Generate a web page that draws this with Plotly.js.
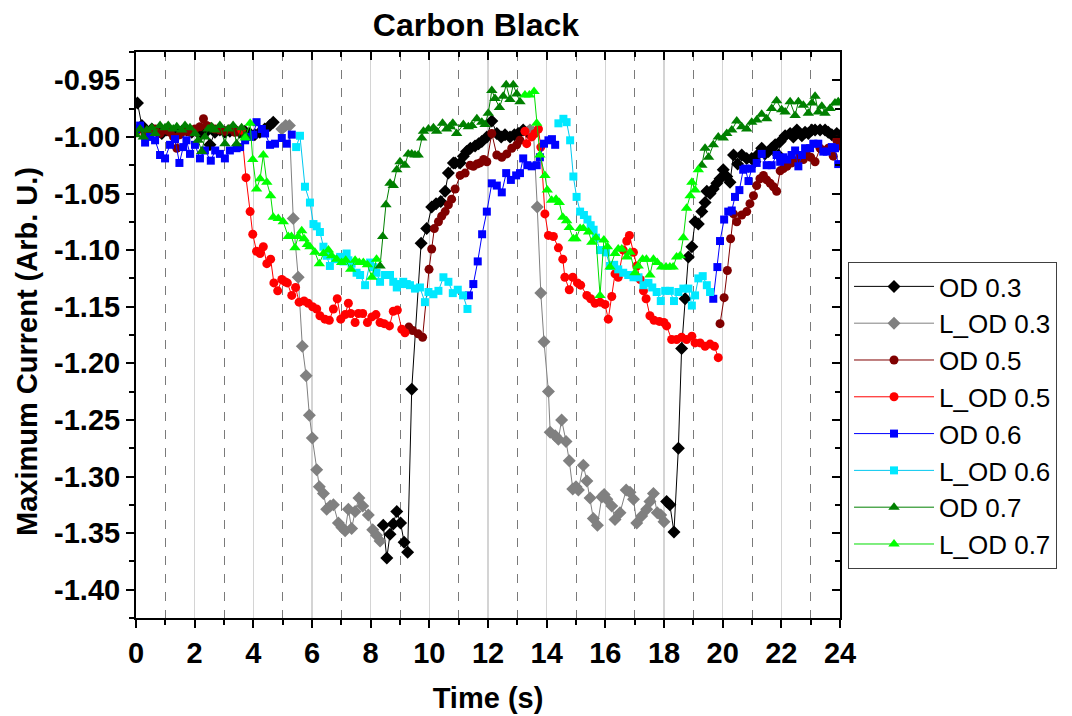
<!DOCTYPE html>
<html>
<head>
<meta charset="utf-8">
<script src="https://cdn.plot.ly/plotly-3.0.1.min.js"></script>
<style>html,body{margin:0;padding:0;background:#fff;}#chart{width:1072px;height:716px;}</style>
</head>
<body>
<div id="chart"></div>
<script>
// ---- Data (time in s, maximum current in arb. units); null separates segments ----
const od03_t = [0.05,0.2,0.37,0.54,0.71,0.88,1.05,1.22,1.39,1.56,1.73,1.9,2.07,2.24,2.41,2.52,2.69,2.86,3.03,3.2,3.37,3.54,3.71,3.88,4.05,4.22,4.39,4.56,4.68,
  null,
  8.43,8.55,8.66,8.77,8.89,9.02,9.14,9.26,9.4,9.72,9.91,10.08,10.23,10.39,10.54,10.65,10.82,10.88,11.05,11.16,11.27,11.4,11.56,11.68,11.79,11.96,12.13,12.3,12.45,12.58,12.75,12.9,13.03,13.2,13.35,
  null,
  18.09,18.2,18.34,18.49,18.6,18.72,18.83,18.95,19.06,19.17,19.29,19.4,19.46,19.57,19.68,19.8,19.91,20.02,20.14,20.25,20.37,20.51,20.65,20.82,20.99,21.1,21.22,21.33,21.44,21.56,21.67,21.79,21.9,21.96,22.13,22.3,22.41,22.53,22.7,22.81,22.92,23.04,23.15,23.32,23.49,23.6,23.72,23.89,24.0];
const od03_v = [-0.970,-0.990,-0.996,-0.993,-0.995,-0.997,-0.994,-0.996,-0.997,-0.995,-0.994,-0.996,-0.995,-0.997,-0.995,-1.007,-0.996,-0.994,-0.996,-0.995,-0.994,-0.996,-0.995,-0.997,-0.998,-0.996,-0.993,-0.990,-0.987,
  null,
  -1.343,-1.372,-1.351,-1.342,-1.331,-1.341,-1.358,-1.367,-1.223,-1.094,-1.081,-1.062,-1.059,-1.057,-1.048,-1.032,-1.023,-1.023,-1.023,-1.017,-1.013,-1.010,-1.008,-1.006,-1.004,-1.000,-0.986,-0.997,-1.000,-0.998,-1.000,-0.998,-0.997,-0.994,-0.996,
  null,
  -1.322,-1.325,-1.349,-1.275,-1.187,-1.143,-1.106,-1.097,-1.075,-1.077,-1.066,-1.058,-1.048,-1.050,-1.046,-1.041,-1.037,-1.029,-1.035,-1.040,-1.016,-1.024,-1.016,-1.019,-1.019,-1.022,-1.015,-1.010,-1.015,-1.013,-1.010,-1.007,-1.016,-1.004,-0.999,-0.997,-1.000,-0.994,-0.999,-0.996,-0.997,-0.994,-0.994,-0.994,-0.994,-0.996,-0.998,-0.997,-0.999];

const lod03_t = [4.97,5.1,5.23,5.36,5.53,5.67,5.8,5.91,6.01,6.16,6.25,6.39,6.5,6.62,6.73,6.9,7.02,7.13,7.24,7.35,7.47,7.6,7.73,7.92,8.07,8.2,8.32,
  null,
  13.43,13.55,13.68,13.8,13.91,14.06,14.12,14.29,14.4,14.51,14.66,14.77,14.89,15.0,15.08,15.25,15.37,15.48,15.59,15.73,15.88,15.96,16.05,16.22,16.33,16.5,16.71,16.84,16.96,17.07,17.24,17.41,17.52,17.64,17.77,17.89,18.0];
const lod03_v = [-0.993,-0.990,-0.990,-1.072,-1.124,-1.185,-1.211,-1.246,-1.266,-1.294,-1.309,-1.315,-1.329,-1.326,-1.325,-1.341,-1.345,-1.348,-1.329,-1.346,-1.331,-1.319,-1.326,-1.334,-1.347,-1.352,-1.357,
  null,
  -0.994,-0.996,-1.062,-1.138,-1.181,-1.225,-1.261,-1.264,-1.267,-1.250,-1.269,-1.286,-1.311,-1.309,-1.312,-1.290,-1.304,-1.319,-1.337,-1.343,-1.318,-1.316,-1.320,-1.326,-1.338,-1.332,-1.312,-1.314,-1.320,-1.341,-1.335,-1.329,-1.322,-1.315,-1.332,-1.334,-1.340];

const od05_t = [0.0,0.14,0.31,0.48,0.65,0.82,0.99,1.16,1.28,1.39,1.5,1.67,1.84,2.01,2.18,2.3,2.41,2.52,2.69,2.86,3.03,3.2,3.37,3.5,
  null,
  9.3,9.43,9.62,9.77,9.99,10.08,10.17,10.31,10.42,10.54,10.65,10.76,10.88,11.05,11.22,11.39,11.5,11.62,11.73,11.85,11.96,12.13,12.3,12.47,12.64,12.81,12.98,13.09,
  null,
  19.91,20.05,20.16,20.27,20.37,20.48,20.65,20.82,20.93,21.05,21.16,21.27,21.39,21.5,21.62,21.73,21.84,21.96,22.07,22.19,22.36,22.53,22.64,22.75,22.87,23.0,23.15,23.32,23.43,23.6,23.77,23.89,24.0];
const od05_v = [-0.995,-0.993,-0.998,-0.996,-0.993,-0.997,-0.994,-0.996,-1.000,-1.010,-0.998,-0.995,-0.996,-0.993,-0.991,-0.984,-0.990,-0.991,-0.993,-0.994,-0.995,-0.993,-0.996,-0.995,
  null,
  -1.168,-1.171,-1.174,-1.177,-1.117,-1.099,-1.081,-1.075,-1.070,-1.066,-1.060,-1.055,-1.046,-1.034,-1.032,-1.025,-1.026,-1.024,-1.023,-1.020,-1.022,-0.997,-1.016,-1.018,-1.015,-1.010,-1.007,-1.003,
  null,
  -1.165,-1.142,-1.118,-1.090,-1.068,-1.075,-1.069,-1.066,-1.059,-1.052,-1.043,-1.037,-1.034,-1.038,-1.041,-1.044,-1.048,-1.030,-1.028,-1.026,-1.023,-1.021,-1.017,-1.020,-1.016,-1.018,-1.022,-1.010,-1.012,-1.010,-1.017,-1.003,-1.008];

const lod05_t = [3.6,3.75,3.89,3.98,4.11,4.23,4.34,4.46,4.59,4.7,4.83,4.97,5.08,5.16,5.31,5.44,5.56,5.73,5.87,6.02,6.16,6.27,6.44,6.59,6.73,6.86,6.98,7.13,7.24,7.32,7.47,7.58,7.73,7.89,8.04,8.18,8.32,8.46,8.64,8.77,8.91,9.06,9.17,
  null,
  13.26,13.32,13.49,13.6,13.72,13.8,13.94,14.06,14.23,14.4,14.55,14.62,14.77,14.89,15.05,15.16,15.37,15.5,15.65,15.82,15.99,16.1,16.22,16.33,16.44,16.61,16.73,16.82,16.96,17.07,17.19,17.3,17.39,17.52,17.66,17.84,18.0,18.09,18.26,18.43,18.6,18.77,18.95,19.06,19.23,19.4,19.57,19.72,19.85];
const lod05_v = [-0.994,-1.036,-1.066,-1.086,-1.101,-1.103,-1.097,-1.112,-1.108,-1.129,-1.136,-1.126,-1.128,-1.129,-1.140,-1.133,-1.146,-1.145,-1.147,-1.150,-1.152,-1.158,-1.161,-1.162,-1.152,-1.143,-1.161,-1.157,-1.147,-1.156,-1.164,-1.156,-1.156,-1.164,-1.159,-1.157,-1.164,-1.165,-1.167,-1.154,-1.153,-1.170,-1.173,
  null,
  -0.995,-1.006,-1.000,-0.997,-0.993,-1.009,-1.068,-1.087,-1.088,-1.098,-1.108,-1.124,-1.135,-1.124,-1.129,-1.131,-1.140,-1.143,-1.147,-1.146,-1.148,-1.161,-1.141,-1.121,-1.124,-1.100,-1.092,-1.087,-1.102,-1.114,-1.126,-1.136,-1.143,-1.158,-1.162,-1.163,-1.164,-1.167,-1.179,-1.179,-1.177,-1.179,-1.176,-1.182,-1.182,-1.185,-1.183,-1.185,-1.195];

const od06_t = [0.0,0.14,0.31,0.48,0.65,0.82,0.99,1.16,1.33,1.48,1.61,1.72,1.84,2.01,2.18,2.35,2.55,2.7,2.86,3.03,3.2,3.43,3.55,3.72,3.89,4.0,4.11,4.29,4.4,4.57,4.74,4.97,5.14,5.31,
  null,
  11.35,11.5,11.65,11.8,11.96,12.13,12.3,12.47,12.62,12.78,12.96,13.09,13.2,13.34,13.49,13.66,13.77,13.91,14.06,14.18,14.29,
  null,
  19.68,19.82,19.91,20.05,20.19,20.31,20.42,20.57,20.7,20.77,20.88,20.99,21.16,21.33,21.5,21.67,21.84,21.96,22.07,22.2,22.35,22.47,22.58,22.7,22.81,22.98,23.09,23.26,23.43,23.55,23.72,23.83,23.94];
const od06_v = [-0.993,-0.990,-1.005,-1.000,-1.003,-1.016,-1.019,-1.007,-1.002,-1.023,-1.009,-1.003,-1.015,-1.007,-1.019,-1.012,-1.021,-1.012,-1.015,-1.019,-1.012,-1.010,-1.009,-1.003,-1.000,-0.998,-0.987,-0.993,-0.997,-1.007,-1.006,-1.001,-1.006,-0.998,
  null,
  -1.140,-1.130,-1.110,-1.086,-1.066,-1.041,-1.043,-1.049,-1.032,-1.038,-1.034,-1.032,-1.019,-1.025,-1.026,-1.025,-1.018,-1.006,-1.003,-1.002,-1.007,
  null,
  -1.143,-1.115,-1.092,-1.073,-1.066,-1.065,-1.053,-1.047,-1.029,-1.028,-1.039,-1.028,-1.023,-1.015,-1.025,-1.025,-1.016,-1.022,-1.018,-1.020,-1.016,-1.012,-1.026,-1.016,-1.010,-1.010,-1.006,-1.006,-1.013,-1.013,-1.009,-1.010,-1.024];

const lod06_t = [5.46,5.59,5.76,5.93,6.05,6.16,6.27,6.39,6.5,6.61,6.78,6.96,7.07,7.18,7.24,7.35,7.52,7.64,7.81,7.98,8.09,8.2,8.32,8.49,8.66,8.77,8.89,9.0,9.11,9.23,9.34,9.51,9.68,9.85,9.97,10.14,10.31,10.48,10.65,10.8,10.97,11.15,11.3,
  null,
  14.4,14.57,14.68,14.8,14.91,15.02,15.14,15.27,15.39,15.5,15.6,15.68,15.82,16.02,16.16,16.3,16.44,16.61,16.78,16.96,17.13,17.3,17.47,17.6,17.75,17.89,18.04,18.2,18.34,18.49,18.66,18.83,18.95,19.06,19.17,19.32,19.46,19.57];
const lod06_v = [-1.009,-0.999,-1.044,-1.058,-1.077,-1.079,-1.084,-1.097,-1.105,-1.114,-1.108,-1.106,-1.110,-1.103,-1.109,-1.112,-1.120,-1.122,-1.131,-1.111,-1.115,-1.120,-1.128,-1.122,-1.122,-1.128,-1.133,-1.130,-1.128,-1.130,-1.131,-1.134,-1.133,-1.146,-1.137,-1.139,-1.136,-1.124,-1.128,-1.138,-1.135,-1.140,-1.152,
  null,
  -0.988,-0.984,-0.987,-1.003,-1.035,-1.053,-1.066,-1.069,-1.073,-1.078,-1.082,-1.089,-1.100,-1.102,-1.114,-1.113,-1.117,-1.120,-1.122,-1.124,-1.124,-1.131,-1.129,-1.133,-1.137,-1.145,-1.136,-1.136,-1.145,-1.137,-1.134,-1.134,-1.149,-1.140,-1.125,-1.123,-1.131,-1.137];

const od07_t = [0.0,0.14,0.25,0.37,0.54,0.65,0.82,0.99,1.1,1.27,1.39,1.56,1.67,1.84,2.01,2.12,2.24,2.35,2.46,2.58,2.69,2.86,3.03,3.14,3.31,3.43,3.6,3.72,
  null,
  8.32,8.41,8.52,8.66,8.77,8.89,9.0,9.17,9.28,9.4,9.51,9.62,9.74,9.8,9.97,10.14,10.25,10.45,10.59,10.7,10.8,10.93,11.16,11.33,11.45,11.62,11.79,11.9,12.01,12.13,12.24,12.39,12.52,12.62,12.75,12.86,12.98,13.09,
  null,
  19.29,19.4,19.52,19.68,19.85,20.02,20.14,20.31,20.48,20.65,20.82,20.99,21.16,21.33,21.5,21.67,21.84,22.01,22.13,22.3,22.47,22.58,22.75,22.92,23.04,23.15,23.26,23.38,23.49,23.66,23.83,23.94];
const od07_v = [-0.998,-0.993,-1.000,-0.994,-0.992,-0.997,-0.990,-0.992,-0.990,-0.993,-0.991,-0.994,-0.990,-0.992,-0.997,-1.003,-1.013,-1.000,-0.993,-0.991,-0.994,-0.990,-1.006,-0.993,-0.990,-1.006,-0.992,-0.999,
  null,
  -1.114,-1.088,-1.060,-1.041,-1.043,-1.029,-1.022,-1.025,-1.015,-1.015,-1.016,-1.016,-1.001,-0.995,-0.993,-0.992,-0.995,-0.988,-0.993,-0.991,-0.988,-0.997,-0.989,-0.991,-0.990,-0.984,-0.987,-0.989,-0.979,-0.959,-0.966,-0.974,-0.964,-0.954,-0.967,-0.954,-0.962,-0.969,
  null,
  -1.025,-1.010,-1.018,-1.007,-1.000,-1.001,-0.997,-0.994,-0.986,-0.991,-0.993,-0.987,-0.985,-0.980,-0.984,-0.975,-0.968,-0.976,-0.978,-0.969,-0.981,-0.969,-0.972,-0.979,-0.970,-0.964,-0.978,-0.973,-0.979,-0.975,-0.970,-0.969];

const lod07_t = [3.72,3.89,3.98,4.11,4.23,4.34,4.46,4.59,4.68,4.85,5.02,5.19,5.3,5.42,5.53,5.65,5.73,5.84,5.93,6.1,6.25,6.39,6.56,6.67,6.84,7.01,7.15,7.32,7.47,7.61,7.75,7.89,8.04,8.2,
  null,
  13.26,13.41,13.57,13.66,13.77,13.94,14.02,14.17,14.32,14.43,14.55,14.68,14.77,14.91,15.0,15.14,15.25,15.43,15.54,15.68,15.82,15.95,16.07,16.16,16.33,16.44,16.56,16.73,16.84,17.01,17.12,17.27,17.4,17.52,17.64,17.77,17.92,18.07,18.2,18.31,18.43,18.55,18.66,18.77,18.89,18.95,19.06,19.17];
const lod07_v = [-1.001,-0.988,-1.020,-1.046,-1.037,-1.016,-1.040,-1.052,-1.071,-1.072,-1.075,-1.088,-1.088,-1.098,-1.088,-1.083,-1.090,-1.095,-1.097,-1.102,-1.112,-1.103,-1.100,-1.105,-1.108,-1.111,-1.109,-1.117,-1.109,-1.111,-1.111,-1.113,-1.124,-1.108,
  null,
  -0.963,-0.963,-0.960,-0.988,-1.016,-1.034,-1.047,-1.056,-1.055,-1.058,-1.071,-1.074,-1.080,-1.090,-1.090,-1.081,-1.081,-1.084,-1.093,-1.089,-1.140,-1.091,-1.097,-1.115,-1.103,-1.099,-1.099,-1.106,-1.102,-1.120,-1.114,-1.108,-1.108,-1.122,-1.108,-1.111,-1.115,-1.115,-1.115,-1.115,-1.106,-1.105,-1.089,-1.063,-1.052,-1.040,-1.047,-1.029];

const seriesNames = ['OD 0.3','L_OD 0.3','OD 0.5','L_OD 0.5','OD 0.6','L_OD 0.6','OD 0.7','L_OD 0.7'];
const xTickVals = [0,2,4,6,8,10,12,14,16,18,20,22,24];
const yTickVals = [-0.95,-1.00,-1.05,-1.10,-1.15,-1.20,-1.25,-1.30,-1.35,-1.40];
const chartTitle = 'Carbon Black';
const xTitle = 'Time (s)';
const yTitle = 'Maximum Current (Arb. U.)';

// ---- Styles ----
const styles = [
  {t: od03_t,  v: od03_v,  color:'#000000', line:'#000000', symbol:'diamond',     size:10},
  {t: lod03_t, v: lod03_v, color:'#808080', line:'#808080', symbol:'diamond',     size:10},
  {t: od05_t,  v: od05_v,  color:'#800000', line:'#800000', symbol:'circle',      size:9},
  {t: lod05_t, v: lod05_v, color:'#ff0000', line:'#ff0000', symbol:'circle',      size:9},
  {t: od06_t,  v: od06_v,  color:'#0000ff', line:'#0000ff', symbol:'square',      size:8},
  {t: lod06_t, v: lod06_v, color:'#00e8ff', line:'#00c8f0', symbol:'square',      size:8},
  {t: od07_t,  v: od07_v,  color:'#008000', line:'#008000', symbol:'triangle-up', size:10},
  {t: lod07_t, v: lod07_v, color:'#00ff00', line:'#00dd00', symbol:'triangle-up', size:10}
];

const traces = styles.map((s, i) => ({
  type:'scatter', mode:'lines+markers', name: seriesNames[i],
  x: s.t, y: s.v, connectgaps:false,
  line:{color:s.line, width:1},
  marker:{color:s.color, symbol:s.symbol, size:s.size, line:{width:0}}
}));
// dummy trace to activate the mirrored (top/right) tick axes
traces.push({type:'scatter', mode:'markers', x:[null], y:[null], xaxis:'x2', yaxis:'y2', showlegend:false, hoverinfo:'skip'});

const FAM = 'Liberation Sans, Arial, sans-serif';
const tickFont = {family:FAM, size:29, color:'#000', weight:700};
const titleFont = {family:FAM, size:29, color:'#000', weight:700};

const layout = {
  width:1072, height:716,
  paper_bgcolor:'#ffffff', plot_bgcolor:'#ffffff',
  margin:{l:136, r:232, t:52, b:98},
  showlegend:true,
  title:{text:chartTitle, font:{family:FAM, size:32, color:'#000', weight:700},
         x:0.444, xref:'container', xanchor:'center', y:0.966, yref:'container', yanchor:'middle'},
  xaxis:{
    range:[0,24], tickmode:'array', tickvals:xTickVals, ticktext:xTickVals.map(String),
    ticks:'outside', ticklen:8, tickwidth:2, tickcolor:'#000',
    showline:true, linewidth:2, linecolor:'#000', zeroline:false,
    showgrid:true, gridcolor:'#d4d4d4', gridwidth:1.5,
    minor:{dtick:1, tick0:0, ticks:'outside', ticklen:5, tickwidth:2, tickcolor:'#000',
           showgrid:true, gridcolor:'#7a7a7a', gridwidth:1, griddash:'dash'},
    tickfont:tickFont,
    title:{text:xTitle, font:titleFont, standoff:20}
  },
  yaxis:{
    range:[-1.425,-0.925], tickmode:'array', tickvals:yTickVals, ticktext:yTickVals.map(v=>v.toFixed(2)),
    ticks:'outside', ticklen:8, tickwidth:2, tickcolor:'#000',
    showline:true, linewidth:2, linecolor:'#000', zeroline:false, showgrid:false,
    minor:{dtick:0.025, tick0:-1.0, ticks:'outside', ticklen:5, tickwidth:2, tickcolor:'#000', showgrid:false},
    tickfont:tickFont
  },
  xaxis2:{
    overlaying:'x', side:'top', anchor:'y', range:[0,24], dtick:2, tick0:0,
    ticks:'inside', ticklen:8, tickwidth:2, tickcolor:'#000', showticklabels:false,
    showline:true, linewidth:2, linecolor:'#000', showgrid:false, zeroline:false,
    minor:{dtick:1, tick0:0, ticks:'inside', ticklen:5, tickwidth:2, tickcolor:'#000', showgrid:false}
  },
  yaxis2:{
    overlaying:'y', side:'right', anchor:'x', range:[-1.425,-0.925], dtick:0.05, tick0:-1.0,
    ticks:'inside', ticklen:8, tickwidth:2, tickcolor:'#000', showticklabels:false,
    showline:true, linewidth:2, linecolor:'#000', showgrid:false, zeroline:false,
    minor:{dtick:0.025, tick0:-1.0, ticks:'inside', ticklen:5, tickwidth:2, tickcolor:'#000', showgrid:false}
  },
  annotations:[{
    text:yTitle, textangle:-90, showarrow:false,
    xref:'paper', x:(27-136)/704, xanchor:'center',
    yref:'paper', y:(618-352)/566, yanchor:'middle',
    font:titleFont
  }],
  legend:{
    x:1.0114, xanchor:'left', y:0.629, yanchor:'top',
    bgcolor:'#ffffff', bordercolor:'#404040', borderwidth:1,
    font:{family:FAM, size:26, color:'#000'},
    itemwidth:80, tracegroupgap:0
  }
};

Plotly.newPlot('chart', traces, layout, {displayModeBar:false, staticPlot:true});
</script>
</body>
</html>
